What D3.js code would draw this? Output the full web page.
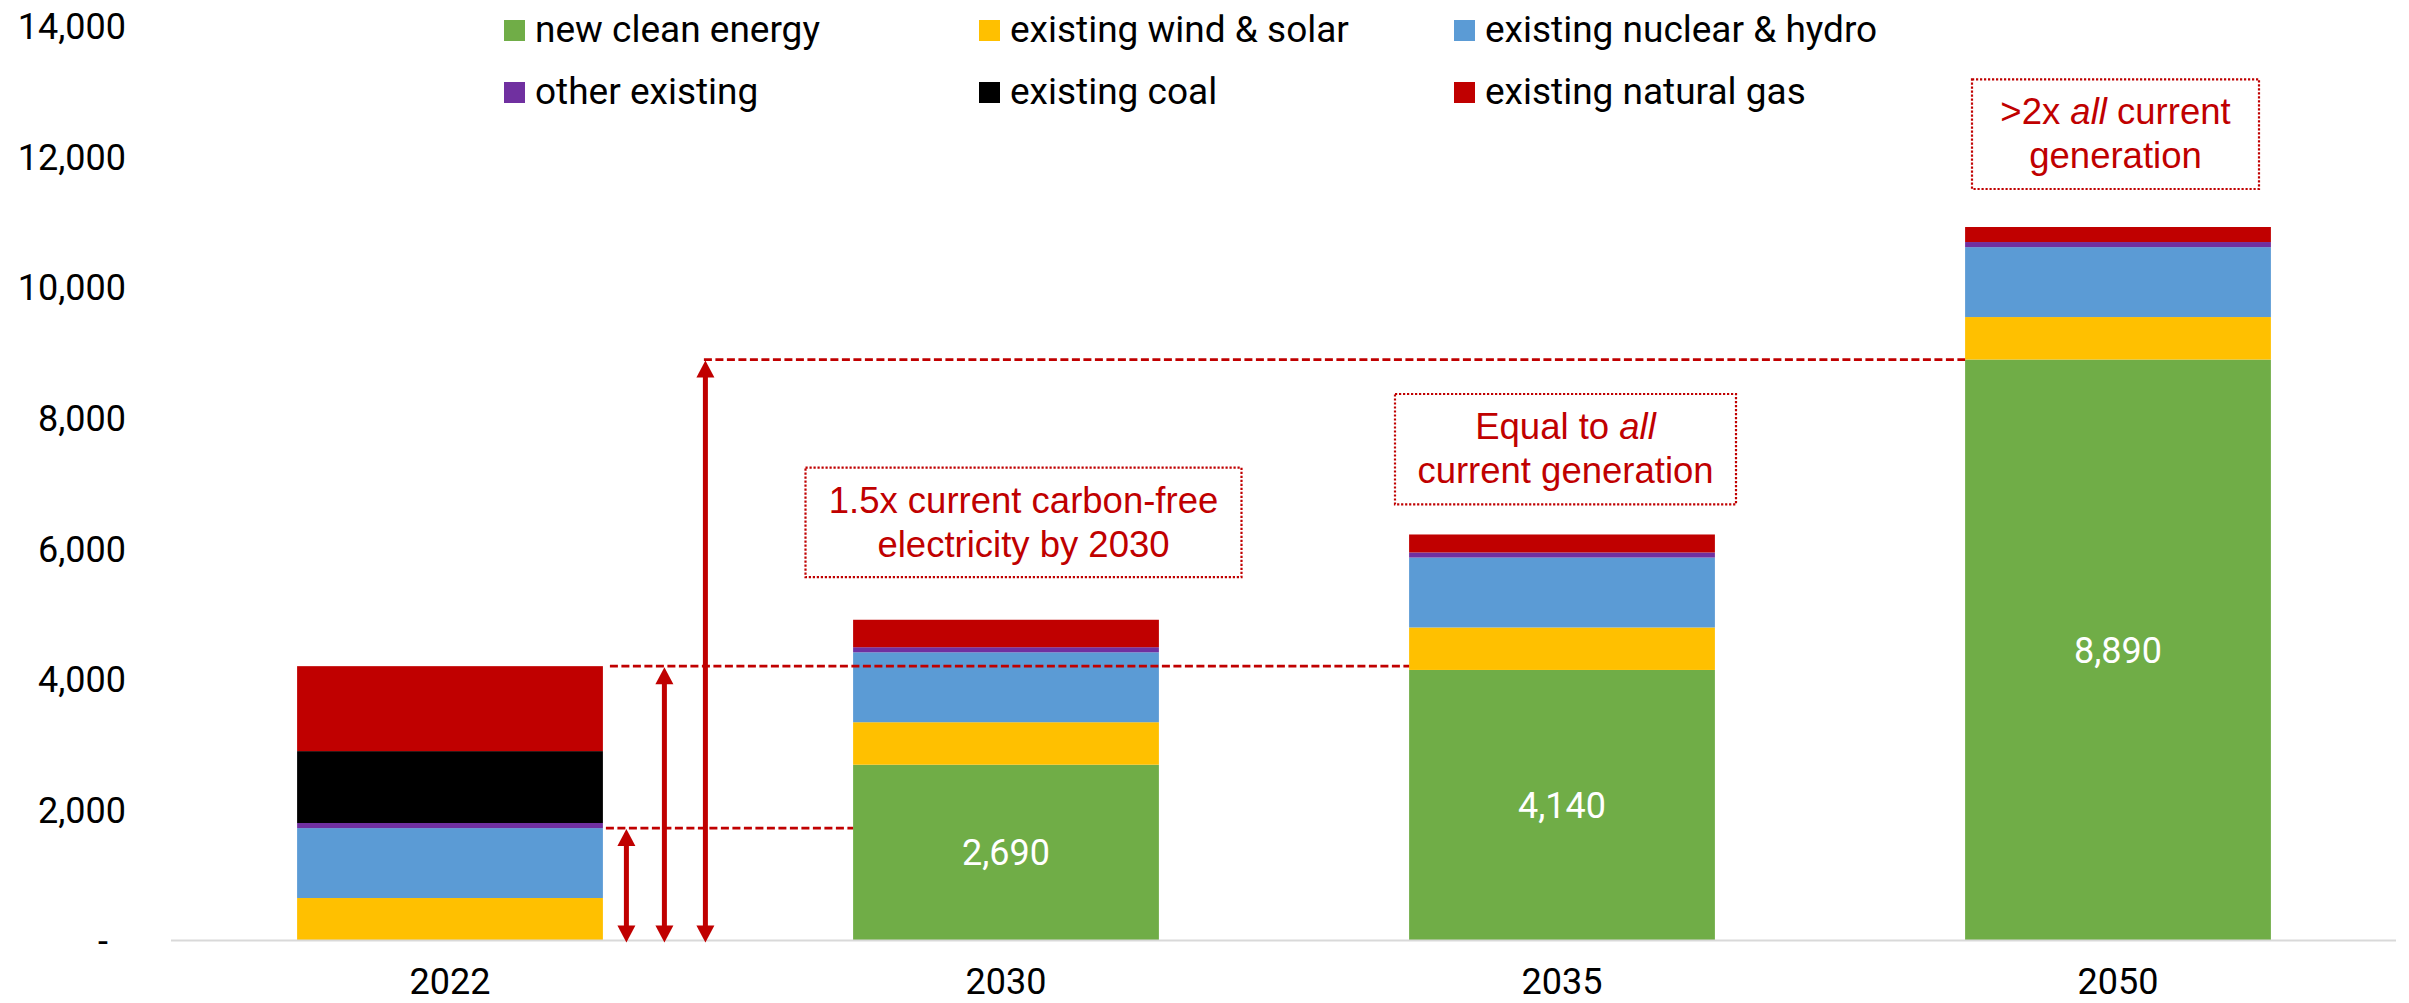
<!DOCTYPE html>
<html>
<head>
<meta charset="utf-8">
<script src="https://cdn.jsdelivr.net/npm/d3@7"></script>
<style>
  html, body { margin: 0; padding: 0; background: #fff; }
  svg { display: block; }
</style>
</head>
<body>
<svg id="chart" width="2409" height="1003"></svg>
<script>
// ---------- data ----------
const categories = ["2022", "2030", "2035", "2050"];
const newCleanEnergy = [0, 2690, 4140, 8890];
const existingWindSolar = [650, 650, 650, 650];
const existingNuclearHydro = [1070, 1070, 1070, 1070];
const otherExisting = [78, 78, 78, 78];
const existingCoal = [1100, 0, 0, 0];
const existingNaturalGas = [1300, 420, 275, 230];
const valueLabels = ["", "2,690", "4,140", "8,890"];

const seriesNames = ["new clean energy", "existing wind & solar", "existing nuclear & hydro",
                     "other existing", "existing coal", "existing natural gas"];
const seriesKeys = ["newClean", "windSolar", "nuclearHydro", "other", "coal", "gas"];
const seriesColors = ["#70AD47", "#FFC000", "#5B9BD5", "#7030A0", "#000000", "#C00000"];
const yTickValues = [0, 2000, 4000, 6000, 8000, 10000, 12000, 14000];

const annotations = [
  { cat: "2030", lines: [[{t: "1.5x current carbon-free"}], [{t: "electricity by 2030"}]] },
  { cat: "2035", lines: [[{t: "Equal to "}, {t: "all", i: true}], [{t: "current generation"}]] },
  { cat: "2050", lines: [[{t: ">2x "}, {t: "all", i: true}, {t: " current"}], [{t: "generation"}]] }
];

// ---------- setup ----------
const svg = d3.select("#chart");
const RED = "#C00000";
const FONT = "Roboto, 'Noto Sans', sans-serif";
const AFONT = "'Liberation Sans', Arial, sans-serif";

const table = categories.map((c, i) => ({
  cat: c,
  newClean: newCleanEnergy[i],
  windSolar: existingWindSolar[i],
  nuclearHydro: existingNuclearHydro[i],
  other: otherExisting[i],
  coal: existingCoal[i],
  gas: existingNaturalGas[i]
}));

const x = d3.scaleBand().domain(categories).range([172, 2396])
  .paddingInner(0.45).paddingOuter(0.225);
const y = d3.scaleLinear().domain([0, 14000]).range([940.5, 25.6]);

const stack = d3.stack().keys(seriesKeys);
const stacked = stack(table);

// ---------- bars ----------
const gBars = svg.append("g");
stacked.forEach((s, si) => {
  gBars.selectAll(null).data(s).enter().append("rect")
    .attr("x", d => x(d.data.cat))
    .attr("width", x.bandwidth())
    .attr("y", d => y(d[1]))
    .attr("height", d => Math.max(0, y(d[0]) - y(d[1])))
    .attr("fill", seriesColors[si]);
});

// value labels in green segment
svg.append("g").selectAll("text").data(stacked[0]).enter().append("text")
  .attr("x", d => x(d.data.cat) + x.bandwidth() / 2)
  .attr("y", d => (y(d[0]) + y(d[1])) / 2)
  .attr("dy", "0.355em")
  .attr("text-anchor", "middle")
  .attr("fill", "#fff")
  .style("font-family", FONT).style("font-size", "36px")
  .text((d, i) => valueLabels[i]);

// ---------- axes ----------
svg.append("line")
  .attr("x1", 171).attr("x2", 2396)
  .attr("y1", y(0)).attr("y2", y(0))
  .attr("stroke", "#d9d9d9").attr("stroke-width", 2);

const yAxis = d3.axisLeft(y).tickValues(yTickValues).tickSize(0)
  .tickFormat(d => d === 0 ? "-" : d3.format(",")(d));
const gy = svg.append("g").attr("transform", "translate(126,0)").call(yAxis);
gy.select(".domain").remove();
gy.selectAll("text")
  .attr("x", d => d === 0 ? -18 : 0)
  .attr("dy", "0.355em")
  .attr("fill", "#000")
  .style("font-family", FONT).style("font-size", "36px");

const xAxis = d3.axisBottom(x).tickSize(0);
const gx = svg.append("g").attr("transform", "translate(0,994)").call(xAxis);
gx.select(".domain").remove();
gx.selectAll("text")
  .attr("y", 0).attr("dy", 0)
  .attr("fill", "#000")
  .style("font-family", FONT).style("font-size", "36px");

// ---------- legend ----------
const legendX = [504, 979, 1454];
const legendY = [20, 82];
const gLeg = svg.append("g");
seriesNames.forEach((name, i) => {
  const lx = legendX[i % 3], ly = legendY[Math.floor(i / 3)];
  gLeg.append("rect").attr("x", lx).attr("y", ly).attr("width", 21).attr("height", 21)
    .attr("fill", seriesColors[i]);
  gLeg.append("text").attr("x", lx + 31).attr("y", ly + 21.5)
    .attr("fill", "#000")
    .style("font-family", FONT).style("font-size", "37px")
    .text(name);
});

// ---------- reference arrows and dashed lines ----------
const carbonFree2022 = existingWindSolar[0] + existingNuclearHydro[0];
const total2022 = d3.sum(seriesKeys, k => table[0][k]);
const clean2050 = newCleanEnergy[3];
const barRight2022 = x("2022") + x.bandwidth();

const refs = [
  { v: carbonFree2022, ax: barRight2022 + 23.5, dashFrom: barRight2022 + 3, dashTo: x("2030") },
  { v: total2022, ax: barRight2022 + 61.5, dashFrom: barRight2022 + 7, dashTo: x("2035") },
  { v: clean2050, ax: barRight2022 + 102.5, dashFrom: barRight2022 + 101, dashTo: x("2050") }
];

const gRef = svg.append("g");
refs.forEach(r => {
  const yTop = y(r.v) + 1;
  gRef.append("line")
    .attr("x1", r.dashFrom).attr("x2", r.dashTo)
    .attr("y1", y(r.v)).attr("y2", y(r.v))
    .attr("stroke", RED).attr("stroke-width", 2.7)
    .attr("stroke-dasharray", "8,3.5");
  const yBot = y(0) + 2;
  const hh = 17, hw = 9;
  gRef.append("line")
    .attr("x1", r.ax).attr("x2", r.ax)
    .attr("y1", yTop + hh - 1).attr("y2", yBot - hh + 1)
    .attr("stroke", RED).attr("stroke-width", 5);
  gRef.append("path")
    .attr("d", `M${r.ax},${yTop} L${r.ax - hw},${yTop + hh} L${r.ax + hw},${yTop + hh} Z`)
    .attr("fill", RED);
  gRef.append("path")
    .attr("d", `M${r.ax},${yBot} L${r.ax - hw},${yBot - hh} L${r.ax + hw},${yBot - hh} Z`)
    .attr("fill", RED);
});

// ---------- annotation boxes ----------
const boxGeom = {
  "2030": { dx: 17.5, top: 467.7, w: 436, h: 109.5 },
  "2035": { dx: 3.5, top: 394, w: 341, h: 110.3 },
  "2050": { dx: -2.5, top: 79.3, w: 287, h: 109.7 }
};
const gAnn = svg.append("g");
annotations.forEach(a => {
  const g = boxGeom[a.cat];
  const cx = x(a.cat) + x.bandwidth() / 2 + g.dx;
  gAnn.append("rect")
    .attr("x", cx - g.w / 2).attr("y", g.top)
    .attr("width", g.w).attr("height", g.h)
    .attr("fill", "none").attr("stroke", RED)
    .attr("stroke-width", 2.2).attr("stroke-dasharray", "2.2,1.8");
  a.lines.forEach((ln, li) => {
    const t = gAnn.append("text")
      .attr("x", cx).attr("y", g.top + 45 + li * 44)
      .attr("text-anchor", "middle").attr("fill", RED)
      .style("font-family", AFONT).style("font-size", "36.5px");
    ln.forEach(seg => {
      t.append("tspan").text(seg.t).style("font-style", seg.i ? "italic" : "normal");
    });
  });
});
</script>
</body>
</html>
